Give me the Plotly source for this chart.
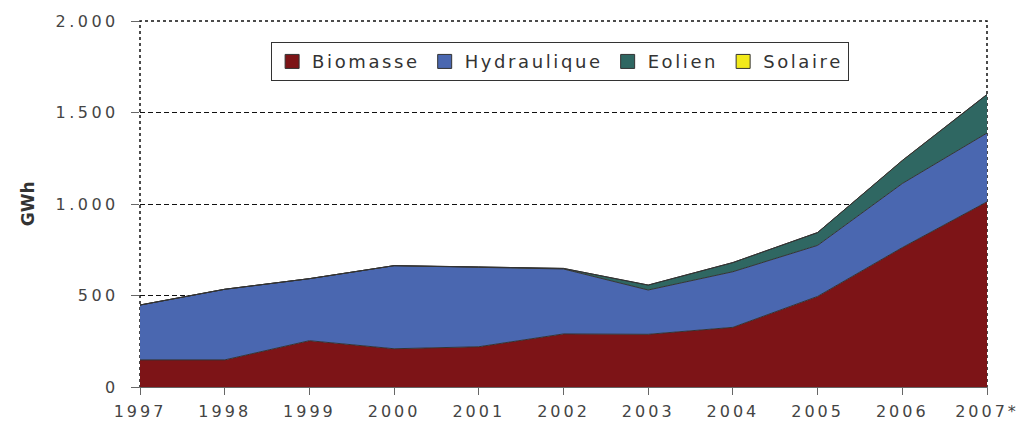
import plotly.graph_objects as go

years = [1997, 1998, 1999, 2000, 2001, 2002, 2003, 2004, 2005, 2006, 2007]
year_labels = ["1997", "1998", "1999", "2000", "2001", "2002", "2003", "2004", "2005", "2006", "2007*"]
biomasse = [148, 148, 253, 209, 220, 290, 288, 326, 495, 762, 1012]
hydraulique = [300, 386, 339, 454, 434, 355, 242, 304, 279, 350, 376]
eolien = [0, 0, 0, 0, 2, 3, 27, 50, 70, 125, 210]
solaire = [0, 0, 0, 0, 0, 0, 0, 0, 0, 1, 1]
y_ticks = [0, 500, 1000, 1500, 2000]
y_tick_labels = ["0", "500", "1.000", "1.500", "2.000"]

series = [
    ("Biomasse", biomasse, "#7D1417"),
    ("Hydraulique", hydraulique, "#4A67B0"),
    ("Eolien", eolien, "#2F6762"),
    ("Solaire", solaire, "#F2EA1A"),
]

fig = go.Figure()
for name, vals, col in series:
    fig.add_trace(go.Scatter(
        x=years, y=vals, name=name, mode="lines", stackgroup="one",
        line=dict(color="#333333", width=1), fillcolor=col, showlegend=False,
    ))
# legend entries with square swatches
for name, vals, col in series:
    fig.add_trace(go.Scatter(
        x=[None], y=[None], name=name, mode="markers",
        marker=dict(symbol="square", size=14, color=col, line=dict(color="#333333", width=1)),
        showlegend=True,
    ))

font_family = "DejaVu Sans"
fig.update_layout(
    width=1019, height=421,
    margin=dict(l=140, r=32, t=21, b=34, autoexpand=False),
    paper_bgcolor="white", plot_bgcolor="white",
    font=dict(family=font_family, size=16, color="#444444"),
    showlegend=True,
    legend=dict(
        orientation="h", x=0.496, y=0.942, xanchor="center", yanchor="top",
        bordercolor="#333333", borderwidth=1, bgcolor="white",
        font=dict(family=font_family, size=18, color="#333333"),
        itemwidth=30, traceorder="normal", tracegroupgap=0,
    ),
    xaxis=dict(
        range=[1997, 2007], tickvals=years, ticktext=year_labels,
        showgrid=False, showline=True, linecolor="#666666", linewidth=1,
        ticks="outside", ticklen=7, tickcolor="#666666", automargin=False,
        tickfont=dict(size=16, color="#444444"), zeroline=False,
        ticklabelstandoff=3,
    ),
    yaxis=dict(
        range=[0, 2000], tickvals=y_ticks, ticktext=y_tick_labels,
        showgrid=True, gridcolor="#111111", griddash="5px,3px", gridwidth=1,
        ticks="outside", ticklen=8, tickcolor="#666666", automargin=False,
        tickfont=dict(size=16, color="#444444"), zeroline=False,
        ticklabelstandoff=9, showline=False,
    ),
    annotations=[dict(
        text="<b>GWh</b>", xref="paper", yref="paper", x=-0.132, y=0.5,
        xanchor="center", yanchor="middle", textangle=-90, showarrow=False,
        font=dict(family=font_family, size=17, color="#333333"),
    )],
)
fig.add_shape(type="rect", xref="paper", yref="paper", x0=0, x1=1, y0=0, y1=1,
              line=dict(color="#111111", width=1.5, dash="dot"), layer="below")

post = """
var css = document.createElement('style');
css.innerHTML = 'html,body{margin:0;padding:0;overflow:hidden;} .modebar-container{display:none !important;} text.legendtext{letter-spacing:2.6px;} .xtick text{letter-spacing:3px;} .ytick text{letter-spacing:3.5px;}';
document.head.appendChild(css);
var gd = document.getElementsByClassName('plotly-graph-div')[0];
Plotly.relayout(gd, {'legend.font.size': 18.01});
"""
fig.write_html("out.html", post_script=post,
               config={"displayModeBar": False, "staticPlot": True})
